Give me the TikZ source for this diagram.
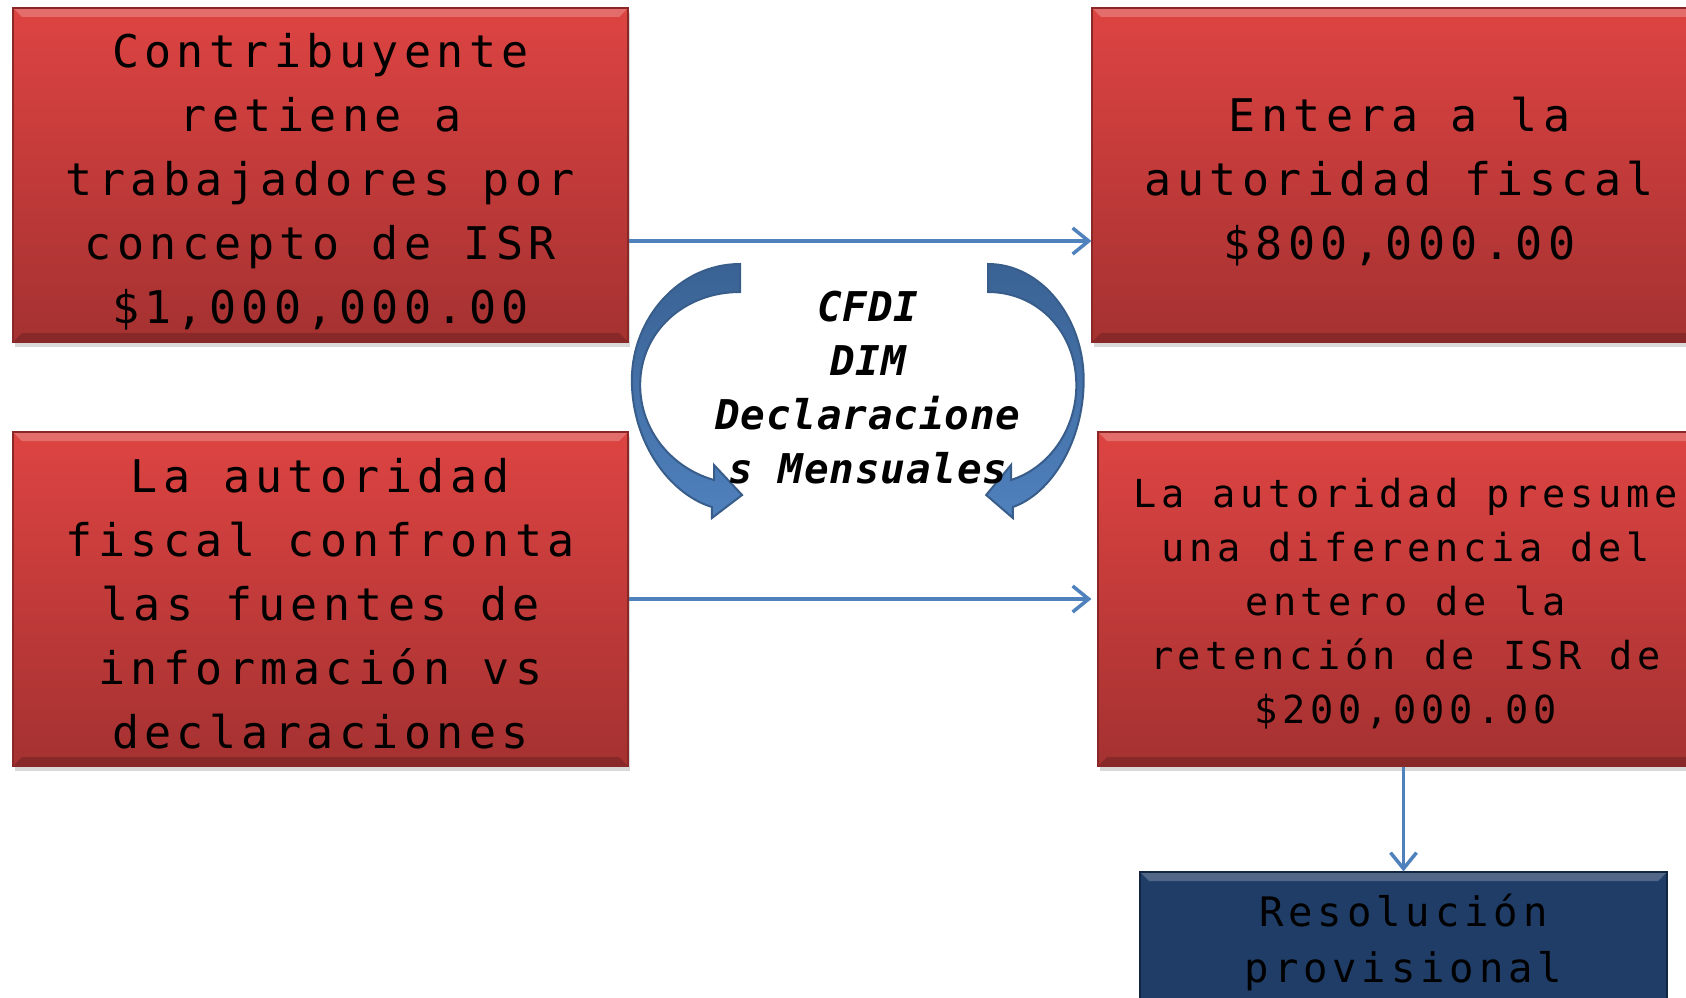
\documentclass[tikz,border=0pt]{standalone}
\usepackage{fontspec}
\usetikzlibrary{arrows.meta,shadows}

\newfontfamily\boxfont[LetterSpace=12]{DejaVu Sans Mono}
\newfontfamily\midfont[LetterSpace=2]{DejaVu Sans Mono}
\newcommand{\liftline}[1]{\rule{0pt}{#1}}

\definecolor{boxtop}{RGB}{221,68,66}
\definecolor{boxbot}{RGB}{165,49,49}
\definecolor{boxline}{RGB}{138,40,40}
\definecolor{navy}{RGB}{31,61,102}
\definecolor{navyline}{RGB}{18,38,66}
\definecolor{linkblue}{RGB}{79,129,189}
\definecolor{swooshdark}{RGB}{58,98,148}
\definecolor{swooshedge}{RGB}{56,93,138}

\tikzset{
  bevel/.style={path picture={
    \fill[white,opacity=.22] (path picture bounding box.north west) -- (path picture bounding box.north east)
      -- ([xshift=-9pt,yshift=-9pt]path picture bounding box.north east) -- ([xshift=9pt,yshift=-9pt]path picture bounding box.north west) -- cycle;
    \fill[black,opacity=.18] (path picture bounding box.south west) -- (path picture bounding box.south east)
      -- ([xshift=-9pt,yshift=9pt]path picture bounding box.south east) -- ([xshift=9pt,yshift=9pt]path picture bounding box.south west) -- cycle;}},
  redbox/.style={draw=boxline, line width=1.2pt, top color=boxtop, bottom color=boxbot, bevel,
    minimum width=615pt, minimum height=334pt, inner sep=0pt, align=center,
    drop shadow={shadow xshift=2pt, shadow yshift=-5pt, opacity=.3}},
  bluebox/.style={draw=navyline, line width=1.2pt, fill=navy, bevel,
    minimum width=527pt, minimum height=138pt, inner sep=0pt, align=center,
    font=\boxfont\fontsize{40.6}{56}\selectfont},
  bigtext/.style={font=\boxfont\fontsize{45}{64}\selectfont},
  smalltext/.style={font=\boxfont\fontsize{38.6}{54}\selectfont},
  midtext/.style={align=center, inner sep=0pt, font=\midfont\bfseries\itshape\fontsize{41}{54}\selectfont},
  link/.style={draw=linkblue, line width=3.5pt, -{Straight Barb[length=16pt,width=26pt]}},
  swoosh/.pic={
    \filldraw[draw=swooshedge, line width=2pt, top color=swooshdark, bottom color=linkblue]
      (0,264) .. controls (-58,264) and (-104,318) .. (-104,380)
      .. controls (-104,442) and (-68,494) .. (-27,507)
      -- (-27,518) -- (2,495) -- (-25,465) -- (-25,480)
      .. controls (-66,468) and (-96,430) .. (-96,385)
      .. controls (-96,332) and (-54,292) .. (0,292) -- cycle;
  }
}

\begin{document}
\begin{tikzpicture}[x=1pt, y=-1pt]
  \useasboundingbox (0,0) rectangle (1686,998);
  \clip (0,0) rectangle (1686,998);

  % cajas
  \node[redbox, bigtext] (retiene) at (320.5,175) {\liftline{47pt}Contribuyente\\retiene a\\trabajadores por\\concepto de ISR\\\$1,000,000.00};
  \node[redbox, bigtext] (entera) at (1399.5,175) {\liftline{47pt}Entera a la\\autoridad fiscal\\\$800,000.00};
  \node[redbox, bigtext] (confronta) at (320.5,599) {\liftline{43pt}La autoridad\\fiscal confronta\\las fuentes de\\información vs\\declaraciones};
  \node[redbox, smalltext] (presume) at (1405.5,599) {\liftline{39.5pt}La autoridad presume\\una diferencia del\\entero de la\\retención de ISR de\\\$200,000.00};
  \node[bluebox] (resolucion) at (1403.5,941) {\liftline{35pt}Resolución\\provisional};

  % flechas
  \draw[link] ([yshift=-66pt]retiene.east) -- ([yshift=-66pt]entera.west);
  \draw[link] (confronta.east) -- (confronta.east -| entera.west);
  \draw[link] (resolucion.north |- presume.south) -- (resolucion.north);

  \path (740,0) pic[xscale=1.04] {swoosh};
  \path (988,0) pic[xscale=-0.92] {swoosh};
  \node[midtext] (fuentes) at (868,388) {CFDI\\DIM\\Declaracione\\s Mensuales};
\end{tikzpicture}
\end{document}
